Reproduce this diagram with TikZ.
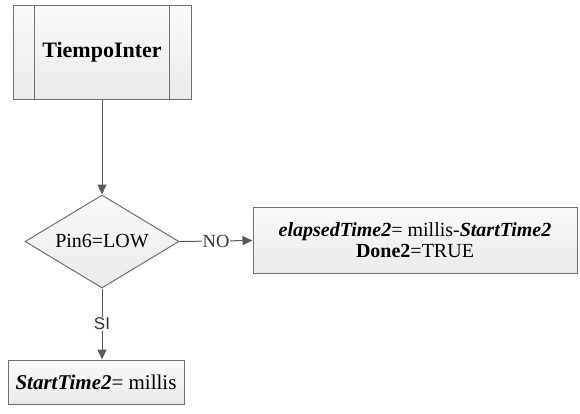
\documentclass[tikz,border=0pt]{standalone}
\usepackage{fontspec}
\setmainfont{Liberation Serif}
\newfontfamily\labsans{Liberation Sans}
\usetikzlibrary{shapes.geometric,arrows.meta}
\definecolor{edgegray}{RGB}{112,112,112}
\definecolor{arrowgray}{RGB}{90,90,90}
\definecolor{filltop}{RGB}{250,250,250}
\definecolor{fillbot}{RGB}{234,234,234}
\tikzset{
  boxbase/.style={draw=edgegray, line width=1pt, top color=filltop, bottom color=fillbot, inner sep=0pt, font=\fontsize{21}{23}\selectfont},
  procbox/.style={boxbase, rectangle},
  decbox/.style={boxbase, diamond, shape aspect=1.66},
  conn/.style={draw=arrowgray, line width=1pt, -{Triangle[length=10pt,width=9pt]}},
  edgelab/.style={fill=white, inner sep=1pt, text=black!80, font=\fontsize{18.5}{20}\selectfont}
}
\begin{document}
\begin{tikzpicture}[x=1pt,y=-1pt]
\useasboundingbox (0,0) rectangle (580,413);
\node[procbox, minimum width=178pt, minimum height=94pt, font=\fontsize{22}{24}\selectfont] (t) at (102,52) {\bfseries TiempoInter};
\draw[edgegray, line width=1pt] ([xshift=22pt]t.north west) -- ([xshift=22pt]t.south west)
  ([xshift=-22pt]t.north east) -- ([xshift=-22pt]t.south east);
\node[decbox, minimum width=154pt, minimum height=93pt, font=\fontsize{20}{22}\selectfont] (d) at (102,241.5) {Pin6=LOW};
\node[procbox, minimum width=324pt, minimum height=66pt, align=center, font=\fontsize{20}{21}\selectfont] (b2) at (415,240.5)
  {\textbf{\textit{elapsedTime2}}= millis-\textbf{\textit{StartTime2}}\\\textbf{Done2}=TRUE};
\node[procbox, minimum width=176pt, minimum height=44pt] (b3) at (96,382)
  {\textbf{\textit{StartTime2}}= millis};
\draw[conn] (t.south) -- (d.north);
\draw[conn] (d.east) -- node[edgelab] {NO} (b2.west);
\draw[conn] (d.south) -- node[edgelab, font=\labsans\fontsize{17}{19}\selectfont] {SI} (d.south |- b3.north);
\end{tikzpicture}
\end{document}
